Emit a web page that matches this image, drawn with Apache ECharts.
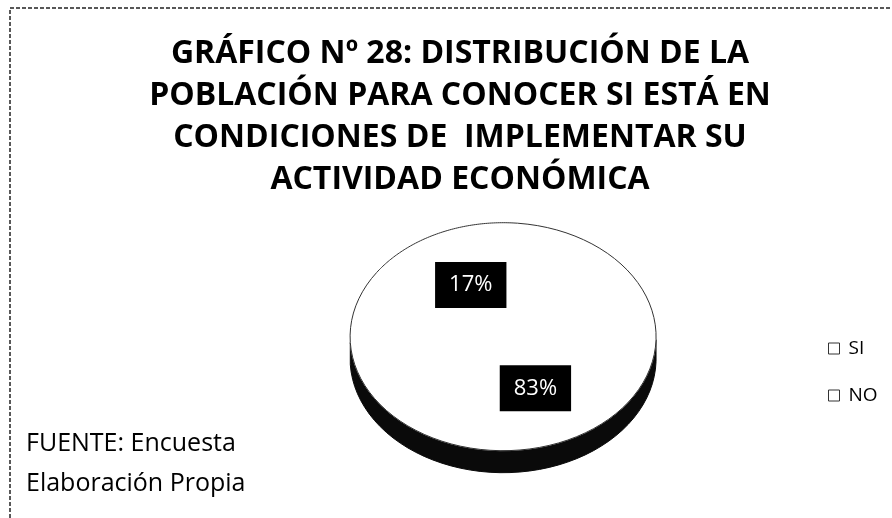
<!DOCTYPE html>
<html>
<head>
<meta charset="utf-8">
<script src="https://cdn.jsdelivr.net/npm/echarts@6/dist/echarts.min.js"></script>
<style>
  html, body { margin: 0; padding: 0; background: #fff; }
  #chart { width: 892px; height: 518px; }
</style>
</head>
<body>
<div id="chart"></div>
<script>
// datos
var categories = ['SI', 'NO'];
var values = [17, 83];
var footLines = ['FUENTE: Encuesta', 'Elaboración Propia'];
var titleText = 'GRÁFICO Nº 28: DISTRIBUCIÓN DE LA\nPOBLACIÓN PARA CONOCER SI ESTÁ EN\nCONDICIONES DE  IMPLEMENTAR SU\nACTIVIDAD ECONÓMICA';

var total = values.reduce(function (a, b) { return a + b; }, 0);
var startAngle = 145.6; // grados, sentido horario
var depth = 22;

function ellipsePt(cx, cy, rx, ry, deg) {
    var r = deg * Math.PI / 180;
    return [cx + rx * Math.cos(r), cy - ry * Math.sin(r)];
}

function makeSlice(idx) {
    var before = 0;
    for (var k = 0; k < idx; k++) before += values[k];
    return function (params, api) {
        var w = api.getWidth(), h = api.getHeight();
        var cx = w * 0.564, cy = h * 0.65, rx = 153, ry = 114;
        var a0 = startAngle - before / total * 360;
        var a1 = a0 - api.value(0) / total * 360;
        var top = [[cx, cy]], arc = [];
        var n = 80;
        for (var i = 0; i <= n; i++) {
            var p = ellipsePt(cx, cy, rx, ry, a0 + (a1 - a0) * i / n);
            top.push(p); arc.push(p);
        }
        // lado (solo mitad frontal)
        var side = [];
        for (var j = 0; j <= n; j++) {
            var ang = a0 + (a1 - a0) * j / n;
            if (Math.sin(ang * Math.PI / 180) <= 0) side.push(ellipsePt(cx, cy, rx, ry, ang));
        }
        var children = [];
        if (side.length > 1) {
            var poly = side.slice();
            for (var m = side.length - 1; m >= 0; m--) poly.push([side[m][0], side[m][1] + depth]);
            children.push({ type: 'polygon', shape: { points: poly }, style: { fill: '#0a0a0a', stroke: '#0a0a0a', lineWidth: 1 } });
        }
        children.push({ type: 'polygon', shape: { points: top }, style: { fill: '#ffffff', stroke: '#ffffff', lineWidth: 0.5 } });
        children.push({ type: 'polyline', shape: { points: arc }, style: { fill: null, stroke: '#333', lineWidth: 1 } });
        var mid = (a0 + a1) / 2;
        var lp = ellipsePt(cx, cy, rx * 0.5, ry * 0.5, mid);
        children.push({
            type: 'text', x: lp[0], y: lp[1], z2: 10,
            style: {
                text: Math.round(api.value(0) / total * 100) + '%',
                fill: '#fff', font: '22px "Open Sans", sans-serif',
                backgroundColor: '#000', padding: [12, 14],
                align: 'center', verticalAlign: 'middle'
            }
        });
        return { type: 'group', children: children };
    };
}

var series = categories.map(function (name, i) {
    return {
        name: name,
        type: 'custom',
        coordinateSystem: 'none',
        renderItem: makeSlice(i),
        itemStyle: { color: '#fff' },
        data: [[values[i]]],
        silent: true
    };
});

var chart = echarts.init(document.getElementById('chart'));
chart.setOption({
    animation: false,
    title: {
        text: titleText,
        left: 455,
        textAlign: 'center',
        top: 28,
        textStyle: { fontFamily: 'Open Sans', fontWeight: 'bold', fontSize: 32, lineHeight: 42, color: '#000' }
    },
    legend: {
        orient: 'vertical',
        left: 823,
        top: 334,
        icon: 'rect',
        itemWidth: 11,
        itemHeight: 11,
        itemGap: 28,
        itemStyle: { color: '#fff', borderColor: '#333', borderWidth: 1 },
        textStyle: { fontFamily: 'Open Sans', fontSize: 19, color: '#000', padding: [0, 0, 0, 4] },
        data: categories
    },
    graphic: [{
        type: 'polyline',
        shape: { points: [[10, 518], [10, 8], [892, 8]] },
        style: { fill: null, stroke: '#222', lineWidth: 1.5, lineDash: [4, 2] }
    }, {
        type: 'text',
        left: 26,
        top: 424,
        style: { text: footLines.join('\n'), font: '25px "Open Sans", sans-serif', lineHeight: 40, fill: '#000' }
    }],
    series: series
});
window.onresize = function () { chart.resize(); };
</script>
</body>
</html>
